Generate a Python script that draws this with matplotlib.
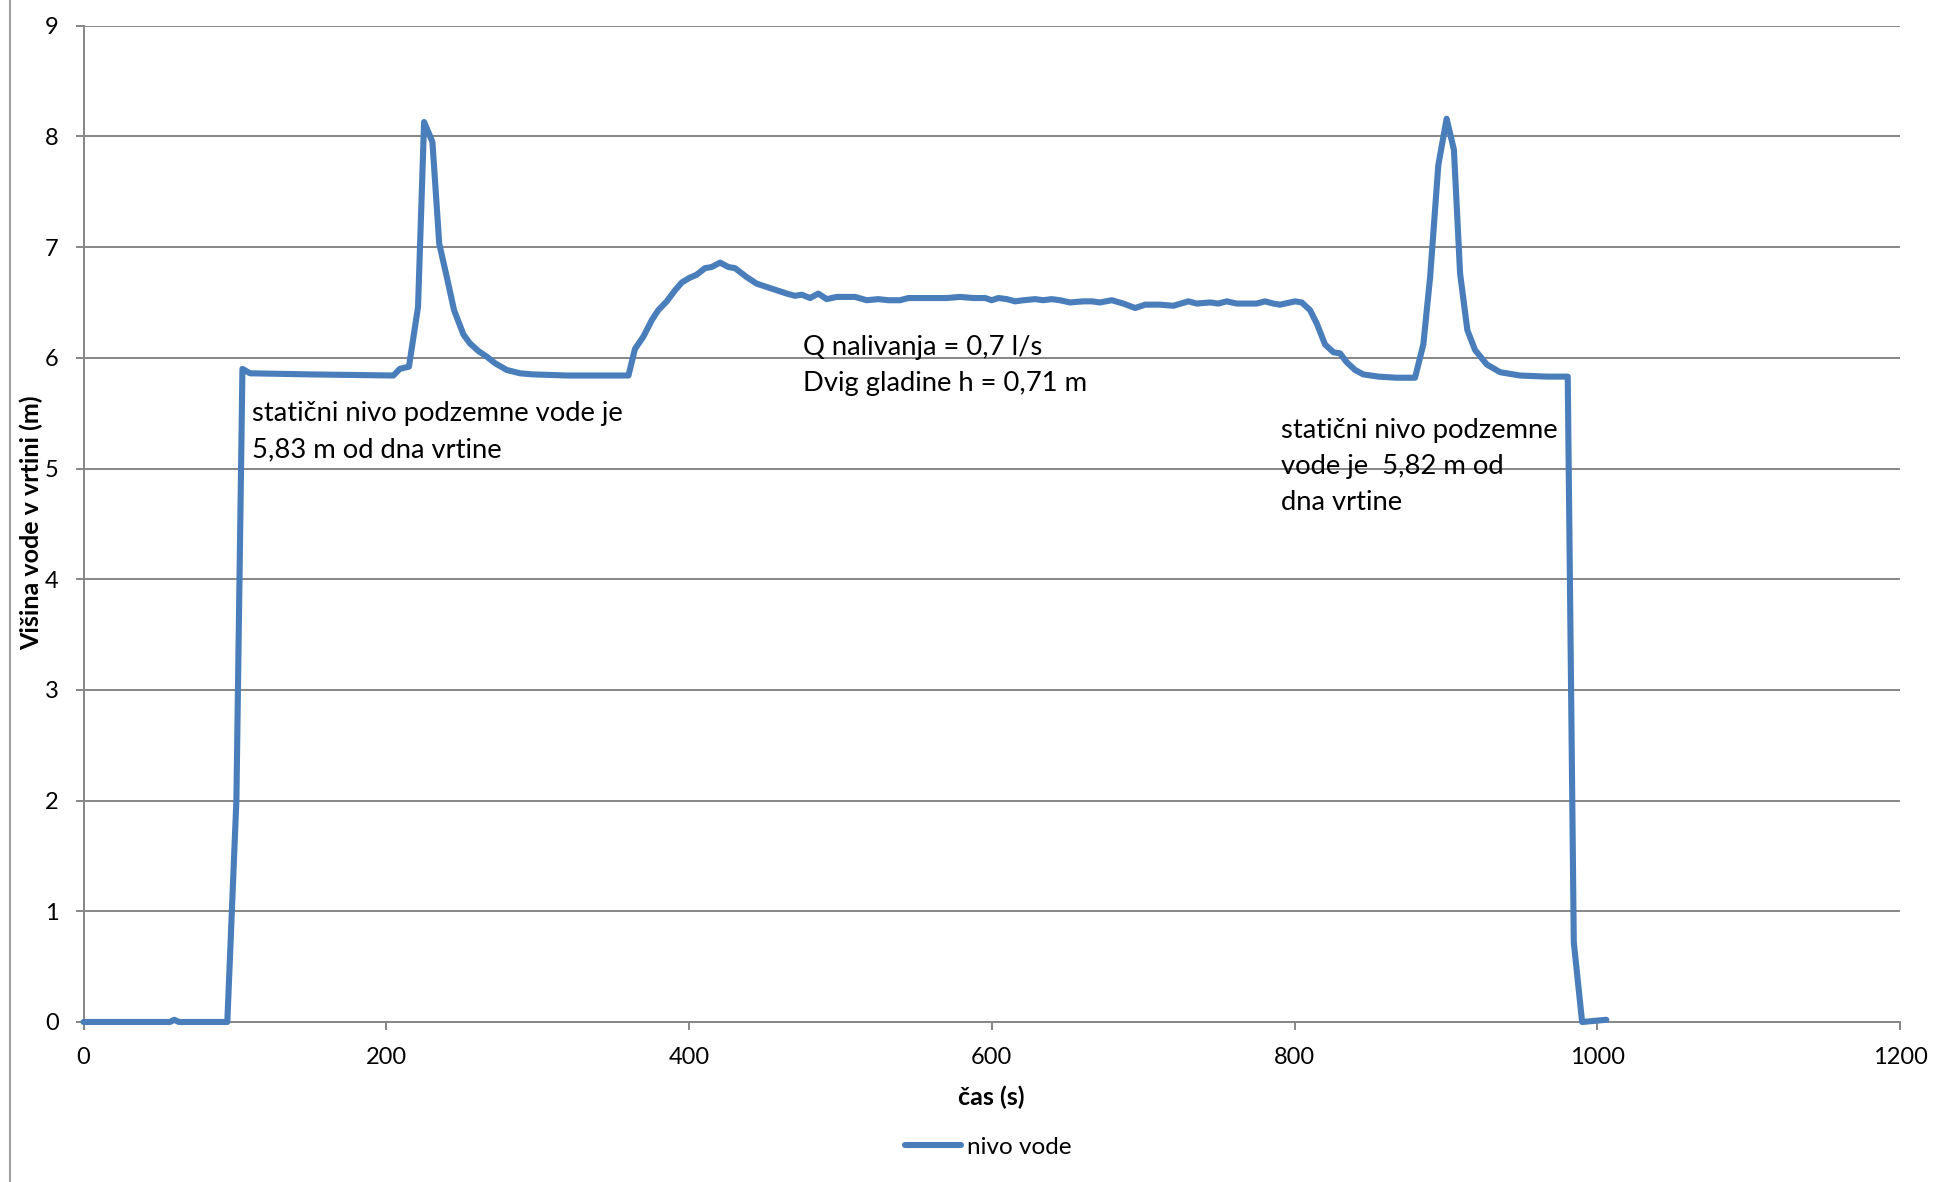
import matplotlib
matplotlib.use("Agg")
import matplotlib.pyplot as plt
from matplotlib.lines import Line2D

plt.rcParams['font.family'] = ['Lato', 'DejaVu Sans']

# ---- data ----
time_s = [0, 57, 60, 63, 95, 101, 105, 110, 150, 204.7, 209, 215, 221, 225, 230.5,
          235, 240, 244.8, 251, 255.3, 261, 266.4, 272, 279.6, 288.4, 297, 320, 360,
          364.3, 369.8, 375.4, 379.7, 385.3, 390.8, 395.2, 400, 405, 410.6, 415, 420.5,
          426, 430.4, 438, 444.7, 451.3, 458, 464.6, 470, 474.5, 480, 485.4, 491, 497.6,
          503, 509.7, 517.4, 525, 531.7, 539.4, 545, 552.6, 561.4, 570.3, 579, 587.8,
          595.6, 600, 604.4, 610, 615.4, 621, 628.6, 634, 639.6, 645, 651.7, 660.5, 666,
          671.5, 679.3, 686.9, 694.7, 701.3, 711.2, 720, 729.9, 735.4, 744.2, 749.7,
          755.2, 761.8, 770.6, 775, 780.5, 786, 790.4, 800.4, 804.8, 810.3, 814.7, 820.2,
          825.7, 830.1, 834.5, 840, 845.5, 855.4, 867.5, 879.6, 885.1, 889.6, 895, 900.5,
          905.3, 909.4, 914.2, 919.3, 927, 935.8, 949, 966.6, 980.5, 984.5, 990, 1006]
level_m = [0, 0, 0.02, 0, 0, 2.0, 5.9, 5.86, 5.85, 5.84, 5.9, 5.92, 6.46, 8.13, 7.95,
           7.03, 6.73, 6.43, 6.21, 6.13, 6.06, 6.01, 5.95, 5.89, 5.86, 5.85, 5.84, 5.84,
           6.08, 6.19, 6.34, 6.43, 6.51, 6.61, 6.68, 6.72, 6.75, 6.81, 6.82, 6.86,
           6.82, 6.81, 6.73, 6.67, 6.64, 6.61, 6.58, 6.56, 6.57, 6.54, 6.58, 6.53, 6.55,
           6.55, 6.55, 6.52, 6.53, 6.52, 6.52, 6.54, 6.54, 6.54, 6.54, 6.55, 6.54,
           6.54, 6.52, 6.54, 6.53, 6.51, 6.52, 6.53, 6.52, 6.53, 6.52, 6.50, 6.51, 6.51,
           6.50, 6.52, 6.49, 6.45, 6.48, 6.48, 6.47, 6.51, 6.49, 6.50, 6.49,
           6.51, 6.49, 6.49, 6.49, 6.51, 6.49, 6.48, 6.51, 6.50, 6.43, 6.31, 6.12,
           6.05, 6.04, 5.96, 5.89, 5.85, 5.83, 5.82, 5.82, 6.12, 6.73, 7.74, 8.16,
           7.88, 6.76, 6.25, 6.07, 5.94, 5.87, 5.84, 5.83, 5.83, 0.72, 0.0, 0.02]

x_ticks = [0, 200, 400, 600, 800, 1000, 1200]
y_ticks = [0, 1, 2, 3, 4, 5, 6, 7, 8, 9]
series_label = "nivo vode"
x_label = "čas (s)"
y_label = "Višina vode v vrtini (m)"
note_left = "statični nivo podzemne vode je\n5,83 m od dna vrtine"
note_mid = "Q nalivanja = 0,7 l/s\nDvig gladine h = 0,71 m"
note_right = "statični nivo podzemne\nvode je  5,82 m od\ndna vrtine"

W, H = 1950, 1182
fig = plt.figure(figsize=(W / 100, H / 100), dpi=100)
ax = fig.add_axes([83.5 / W, 1 - 1022 / H, (1900 - 83.5) / W, (1022 - 25.7) / H])

GRID = '#868686'
BLUE = '#4A7EBB'

ax.plot(time_s, level_m, color=BLUE, lw=4.4, solid_joinstyle='round',
        solid_capstyle='round', label=series_label, zorder=3, clip_on=False)

ax.set_xlim(0, 1200)
ax.set_ylim(0, 9)
ax.set_xticks(x_ticks)
ax.set_yticks(y_ticks)
ax.yaxis.grid(True, color=GRID, lw=1.4)
ax.set_axisbelow(True)
for s in ['top', 'right']:
    ax.spines[s].set_visible(False)
for s in ['left', 'bottom']:
    ax.spines[s].set_color(GRID)
    ax.spines[s].set_linewidth(1.4)
ax.tick_params(axis='both', colors=GRID, length=6, width=1.4, direction='out',
               labelcolor='black', labelsize=17, pad=12)

ax.set_xlabel(x_label, fontsize=18, fontweight='bold')
ax.xaxis.label.set_va('center')
ax.xaxis.set_label_coords(0.5, (1022 - 1097) / 996.3)
ax.set_ylabel(y_label, fontsize=18, fontweight='bold')
ax.yaxis.label.set_va('center')
ax.yaxis.set_label_coords((31 - 83.5) / 1816.5, (1022 - 523) / 996.3)

ax.text(111.6, 5.33, note_left, fontsize=19.7, va='center', ha='left', linespacing=1.55)
ax.text(475.6, 5.93, note_mid, fontsize=19.7, va='center', ha='left', linespacing=1.55)
ax.text(791.1, 5.02, note_right, fontsize=19.7, va='center', ha='left', linespacing=1.55)

leg = ax.legend(loc='center', bbox_to_anchor=(988.5 / W, 1 - 1147 / H),
                bbox_transform=fig.transFigure, frameon=False, fontsize=17.5,
                handlelength=2.3, handletextpad=0.25)

fig.add_artist(Line2D([10 / W, 10 / W], [0, 1], transform=fig.transFigure,
                      color='#A0A0A0', lw=1.5))

fig.savefig('out.png', dpi=100)
